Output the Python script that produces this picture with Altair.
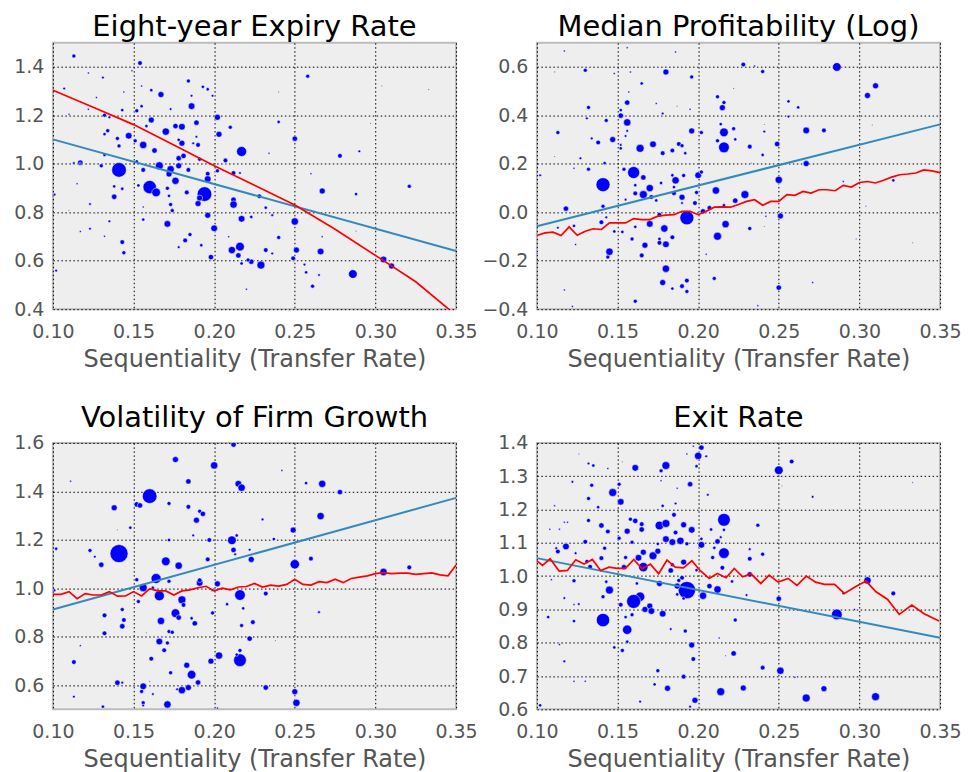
import altair as alt
import pandas as pd

FONT = "DejaVu Sans"

X_TICKS = [0.10, 0.15, 0.20, 0.25, 0.30, 0.35]

# ---------------- Panel 1: Eight-year Expiry Rate ----------------
p1_x = [0.113,0.154,0.107,0.122,0.131,0.149,0.167,0.161,0.184,0.193,0.196,0.199,0.186,0.186,0.127,0.144,0.155,0.155,0.152,0.143,
        0.132,0.135,0.161,0.158,0.173,0.176,0.180,0.189,0.202,0.210,0.203,0.170,0.147,0.134,0.132,0.140,0.141,0.156,0.151,0.163,
        0.180,0.178,0.190,0.187,0.217,0.132,0.117,0.113,0.130,0.141,0.152,0.166,0.173,0.178,0.178,0.181,0.172,0.156,0.184,0.191,
        0.207,0.202,0.196,0.196,0.176,0.160,0.164,0.194,0.212,0.216,0.138,0.143,0.153,0.138,0.171,0.183,0.191,0.190,0.212,0.212,
        0.228,0.172,0.173,0.174,0.123,0.156,0.135,0.196,0.217,0.223,0.232,0.236,0.250,0.267,0.278,0.288,0.321,0.250,0.258,0.240,
        0.290,0.171,0.200,0.185,0.182,0.178,0.192,0.143,0.144,0.198,0.211,0.216,0.215,0.217,0.223,0.221,0.229,0.232,0.236,0.240,
        0.251,0.249,0.266,0.256,0.257,0.265,0.261,0.286,0.305,0.310,0.102,0.101,0.123,0.117,0.132,0.126,0.110,0.220,0.267,0.288,
        0.240,0.333,0.304,0.297,0.260,0.234,0.115,0.110,0.117,0.122,0.209,0.156,0.189]
p1_y = [1.445,1.416,1.311,1.375,1.356,1.384,1.286,1.304,1.342,1.318,1.308,1.281,1.238,1.281,1.274,1.297,1.321,1.238,1.219,1.222,
        1.201,1.192,1.181,1.156,1.226,1.156,1.153,1.170,1.192,1.151,1.122,1.133,1.116,1.137,1.123,1.105,1.074,1.078,1.095,1.055,
        1.085,1.099,1.078,1.085,1.051,1.037,1.005,1.003,0.992,0.975,1.010,0.992,0.978,0.992,1.023,1.033,0.958,0.975,0.975,1.019,
        1.014,0.971,0.959,0.937,0.930,0.904,0.882,0.875,0.962,0.962,0.864,0.897,0.911,0.907,0.899,0.882,0.859,0.836,0.852,0.832,
        0.866,0.868,0.832,0.807,0.834,0.770,0.763,0.788,0.773,0.781,0.819,0.788,0.762,0.888,1.033,0.875,0.907,1.104,1.362,1.173,
        1.052,0.752,0.734,0.708,0.684,0.656,0.664,0.677,0.633,0.615,0.644,0.658,0.622,0.589,0.596,0.603,0.582,0.644,0.630,0.696,
        0.644,0.610,0.638,0.584,0.552,0.541,0.495,0.545,0.605,0.578,0.559,0.873,0.732,0.721,0.701,0.797,0.808,0.482,0.699,0.722,
        1.297,1.307,1.322,1.167,0.959,1.044,0.918,1.205,1.003,1.225,0.699,0.822,1.112]
p1_w = [6,7,4,3,4,3,9,5,6,5,5,4,10,4,3,3,3,5,6,5,
        6,4,9,5,4,8,10,8,9,6,9,11,10,6,5,6,6,11,6,8,
        9,5,7,4,15,5,8,4,6,22,5,12,11,9,8,8,9,7,7,6,
        7,6,7,10,11,20,13,22,7,4,8,5,5,5,6,7,9,9,8,11,
        7,5,6,6,4,5,4,9,10,5,5,4,11,9,7,5,6,8,6,5,
        4,10,10,6,7,4,5,7,6,8,11,13,8,5,8,6,12,7,4,6,
        9,7,10,4,5,4,6,13,10,9,4,4,4,3,3,2,2,3,3,2,
        2,2,2,2,3,3,3,3,3,3,3,3,4]
p1_fit_x = [0.10, 0.35]
p1_fit_y = [1.101, 0.640]
p1_trend_x = [0.10, 0.125, 0.15, 0.175, 0.20, 0.225, 0.25, 0.275, 0.30, 0.325, 0.35]
p1_trend_y = [1.304, 1.234, 1.162, 1.078, 0.992, 0.912, 0.830, 0.730, 0.622, 0.513, 0.375]

# ---------------- Panel 2: Median Profitability (Log) ----------------
p2_x = [0.117,0.156,0.186,0.130,0.111,0.148,0.180,0.196,0.165,0.158,0.228,0.235,0.240,0.286,0.305,0.310,0.212,0.216,0.215,0.157,
        0.156,0.132,0.131,0.152,0.152,0.156,0.143,0.178,0.195,0.113,0.156,0.155,0.147,0.138,0.134,0.152,0.152,0.164,0.172,0.178,
        0.184,0.188,0.190,0.192,0.196,0.202,0.214,0.216,0.212,0.216,0.222,0.223,0.232,0.241,0.240,0.249,0.256,0.262,0.256,0.267,
        0.278,0.267,0.250,0.229,0.223,0.211,0.200,0.202,0.191,0.186,0.185,0.184,0.160,0.154,0.166,0.141,0.132,0.142,0.127,0.123,
        0.102,0.161,0.170,0.166,0.171,0.161,0.174,0.177,0.185,0.190,0.199,0.198,0.190,0.207,0.216,0.193,0.203,0.176,0.170,0.179,
        0.161,0.155,0.141,0.118,0.140,0.143,0.123,0.113,0.148,0.153,0.159,0.167,0.176,0.180,0.184,0.176,0.212,0.217,0.232,0.251,
        0.145,0.144,0.165,0.180,0.178,0.184,0.190,0.193,0.193,0.161,0.210,0.250,0.124,0.100,0.117,0.122,0.237,0.271,0.321,0.290,
        0.333,0.298,0.304,0.205,0.241,0.242,0.111,0.174,0.222,0.241,0.187,0.233,0.308]
p2_y = [0.666,0.679,0.662,0.586,0.579,0.573,0.579,0.559,0.532,0.579,0.610,0.604,0.581,0.600,0.482,0.522,0.477,0.453,0.432,0.497,
        0.453,0.433,0.388,0.422,0.399,0.371,0.379,0.408,0.425,0.329,0.336,0.315,0.300,0.288,0.305,0.278,0.264,0.264,0.281,0.244,
        0.255,0.282,0.275,0.244,0.336,0.329,0.364,0.330,0.295,0.268,0.345,0.301,0.271,0.333,0.237,0.282,0.458,0.433,0.395,0.338,
        0.338,0.201,0.134,0.073,0.048,0.090,0.153,0.166,0.152,0.132,0.104,0.153,0.164,0.178,0.144,0.114,0.178,0.203,0.223,0.182,
        0.153,0.112,0.100,0.073,0.063,0.078,0.049,0.121,0.079,0.062,0.082,0.038,0.038,0.018,0.029,-0.023,0.004,-0.010,-0.048,-0.067,
        -0.060,0.052,0.025,0.015,-0.041,-0.021,-0.056,-0.064,-0.079,-0.081,-0.110,-0.136,-0.126,-0.132,-0.103,-0.110,-0.099,-0.049,-0.067,-0.015,
        -0.163,-0.185,-0.178,-0.233,-0.290,-0.315,-0.305,-0.282,-0.327,-0.367,-0.273,-0.311,-0.133,-0.170,-0.321,-0.389,-0.386,-0.290,0.132,0.127,
        -0.126,-0.110,0.025,-0.173,-0.058,-0.016,0.230,0.449,0.511,0.363,0.438,0.203,0.360]
p2_w = [3,3,3,6,2,3,9,6,5,3,7,3,6,13,9,9,6,6,9,3,
        8,6,4,5,8,11,6,4,3,6,4,4,9,7,4,4,5,12,10,7,
        7,7,6,5,9,6,5,13,6,16,6,5,7,4,5,8,5,5,4,10,
        7,9,11,12,8,11,10,6,6,11,5,5,18,6,8,21,6,5,4,3,
        4,5,11,12,7,7,5,5,7,9,6,7,4,7,5,21,8,7,10,11,
        5,4,6,8,7,4,5,4,5,5,6,9,7,10,7,5,12,11,6,9,
        11,6,7,11,9,5,7,7,6,6,6,8,3,3,3,3,3,3,5,3,
        2,2,2,3,2,3,2,3,2,2,2,2,2]
p2_fit_x = [0.10, 0.35]
p2_fit_y = [-0.058, 0.363]
grid_x = [0.100,0.105,0.110,0.115,0.120,0.125,0.130,0.135,0.140,0.145,0.150,0.155,0.160,0.165,0.170,0.175,0.180,
          0.185,0.190,0.195,0.200,0.205,0.210,0.215,0.220,0.225,0.230,0.235,0.240,0.245,0.250,0.255,0.260,0.265,
          0.270,0.275,0.280,0.285,0.290,0.295,0.300,0.305,0.310,0.315,0.320,0.325,0.330,0.335,0.340,0.345,0.350]
p2_trend_y = [-0.096,-0.085,-0.082,-0.096,-0.060,-0.095,-0.078,-0.068,-0.071,-0.044,-0.044,-0.044,-0.026,-0.030,-0.030,-0.016,-0.012,
              -0.010,0.004,0.004,-0.010,0.004,0.021,0.022,0.021,0.032,0.045,0.052,0.029,0.045,0.045,0.073,0.070,0.086,
              0.079,0.093,0.093,0.089,0.111,0.104,0.123,0.127,0.121,0.132,0.145,0.155,0.158,0.162,0.175,0.171,0.164]

# ---------------- Panel 3: Volatility of Firm Growth ----------------
p3_x = [0.212,0.176,0.200,0.242,0.184,0.111,0.215,0.217,0.257,0.267,0.278,0.160,0.152,0.154,0.172,0.138,0.184,0.191,0.193,0.189,
        0.266,0.230,0.148,0.140,0.249,0.214,0.211,0.197,0.187,0.172,0.237,0.102,0.123,0.126,0.130,0.141,0.212,0.213,0.222,0.223,
        0.196,0.260,0.250,0.170,0.178,0.152,0.164,0.172,0.156,0.162,0.166,0.153,0.191,0.191,0.202,0.199,0.216,0.232,0.180,0.181,
        0.101,0.143,0.132,0.144,0.143,0.176,0.178,0.167,0.186,0.188,0.199,0.208,0.218,0.224,0.217,0.265,0.132,0.158,0.172,0.174,
        0.222,0.166,0.171,0.169,0.117,0.238,0.216,0.216,0.214,0.203,0.198,0.161,0.113,0.183,0.186,0.190,0.173,0.140,0.143,0.156,
        0.180,0.184,0.177,0.155,0.162,0.232,0.250,0.251,0.171,0.156,0.156,0.113,0.131,0.202,0.305,0.321,0.160]
p3_y = [1.593,1.531,1.507,1.486,1.441,1.442,1.431,1.415,1.434,1.431,1.397,1.380,1.346,1.342,1.350,1.332,1.336,1.318,1.307,1.281,
        1.298,1.284,1.250,1.241,1.240,1.218,1.198,1.199,1.218,1.199,1.203,1.163,1.156,1.130,1.097,1.143,1.158,1.140,1.159,1.119,
        1.119,1.122,1.099,1.111,1.093,1.035,1.040,1.029,1.002,1.002,0.969,0.945,1.022,1.033,1.018,0.992,0.972,0.978,0.952,0.931,
        0.991,0.912,0.888,0.869,0.843,0.897,0.879,0.865,0.876,0.855,0.898,0.934,0.917,0.860,0.846,0.901,0.814,0.816,0.821,0.818,
        0.792,0.780,0.774,0.744,0.763,0.784,0.743,0.703,0.726,0.722,0.699,0.709,0.695,0.682,0.643,0.611,0.651,0.610,0.610,0.595,
        0.579,0.590,0.583,0.574,0.563,0.590,0.573,0.527,0.520,0.527,0.516,0.552,0.511,0.505,1.067,1.086,0.615]
p3_w = [8,9,11,3,8,3,10,11,5,11,8,22,8,8,6,9,7,6,8,9,
        11,4,5,2,9,5,13,7,4,5,5,5,6,4,8,27,8,4,4,9,
        7,7,14,13,11,6,15,6,12,5,15,6,10,7,9,4,16,7,12,7,
        4,6,7,7,8,13,8,11,5,8,6,5,5,7,6,4,7,2,6,6,
        8,10,6,7,3,2,6,19,5,11,9,7,7,9,13,8,6,8,4,10,
        11,9,4,6,4,8,9,11,11,6,4,4,5,3,11,7,2]
p3_fit_x = [0.10, 0.35]
p3_fit_y = [0.912, 1.373]
p3_trend_y = [0.975,0.975,0.986,0.957,0.978,0.972,0.972,0.986,0.967,0.968,0.986,0.968,0.998,0.989,0.989,0.972,0.989,
              0.993,1.002,1.008,0.989,1.000,0.993,1.005,1.007,1.020,1.005,1.013,1.009,1.016,1.037,1.016,1.013,1.027,
              1.023,1.037,1.023,1.040,1.046,1.051,1.060,1.064,1.060,1.062,1.062,1.057,1.060,1.063,1.055,1.051,1.096]

# ---------------- Panel 4: Exit Rate ----------------
p4_x = [0.202,0.197,0.200,0.205,0.193,0.199,0.258,0.250,0.161,0.180,0.177,0.132,0.135,0.144,0.126,0.153,0.122,0.151,0.134,0.195,
        0.177,0.187,0.252,0.271,0.333,0.147,0.152,0.132,0.138,0.111,0.206,0.186,0.178,0.175,0.132,0.117,0.119,0.140,0.144,0.216,
        0.158,0.161,0.165,0.165,0.176,0.180,0.185,0.191,0.196,0.186,0.156,0.237,0.108,0.114,0.208,0.216,0.214,0.212,0.202,0.202,
        0.189,0.184,0.180,0.193,0.175,0.159,0.151,0.130,0.118,0.113,0.112,0.142,0.124,0.140,0.131,0.155,0.163,0.166,0.172,0.175,
        0.216,0.209,0.210,0.232,0.240,0.232,0.133,0.154,0.166,0.184,0.191,0.183,0.199,0.215,0.232,0.221,0.123,0.109,0.143,0.176,
        0.162,0.190,0.188,0.193,0.187,0.207,0.212,0.203,0.145,0.141,0.164,0.160,0.170,0.171,0.167,0.152,0.178,0.159,0.155,0.191,
        0.187,0.230,0.250,0.286,0.305,0.321,0.290,0.297,0.117,0.123,0.126,0.107,0.123,0.141,0.156,0.183,0.192,0.223,0.156,0.148,
        0.153,0.196,0.213,0.114,0.117,0.222,0.197,0.175,0.173,0.181,0.191,0.214,0.228,0.240,0.251,0.260,0.267,0.278,0.310,0.198,
        0.195,0.164,0.102,0.123,0.130,0.283,0.241,0.217]
p4_y = [1.386,1.390,1.361,1.360,1.367,1.330,1.344,1.318,1.325,1.332,1.316,1.338,1.332,1.323,1.367,1.343,1.283,1.276,1.273,1.276,
        1.286,1.264,1.271,1.238,1.281,1.251,1.223,1.233,1.207,1.211,1.244,1.218,1.211,1.199,1.167,1.162,1.162,1.152,1.134,1.169,
        1.171,1.166,1.156,1.140,1.152,1.158,1.184,1.154,1.139,1.131,1.135,1.153,1.141,1.141,1.140,1.139,1.117,1.104,1.112,1.094,
        1.106,1.102,1.111,1.097,1.097,1.102,1.114,1.103,1.089,1.074,1.084,1.084,1.069,1.054,1.044,1.056,1.055,1.072,1.061,1.075,
        1.069,1.056,1.085,1.081,1.066,1.052,1.028,1.027,1.027,1.034,1.042,1.017,1.018,1.025,1.005,0.984,0.986,0.989,0.983,0.978,
        0.978,0.995,0.987,0.958,0.970,0.970,0.960,0.941,0.958,0.938,0.938,0.924,0.910,0.895,0.900,0.914,0.887,0.884,0.877,0.933,
        0.945,0.943,0.932,0.885,0.987,0.948,0.948,0.900,0.934,0.915,0.916,0.877,0.865,0.868,0.839,0.841,0.835,0.868,0.803,0.786,
        0.777,0.793,0.814,0.795,0.744,0.768,0.751,0.716,0.675,0.663,0.698,0.653,0.664,0.725,0.716,0.696,0.634,0.662,0.638,0.627,
        0.608,0.623,0.612,0.684,0.684,1.199,0.798,0.761]
p4_w = [8,3,11,4,3,5,7,13,10,12,6,4,5,3,2,2,4,6,6,8,
        3,3,2,4,2,12,10,6,5,3,4,4,5,3,6,3,3,8,7,19,
        6,8,7,8,13,12,7,9,10,7,9,6,3,3,5,5,4,8,5,10,
        11,10,10,6,5,6,6,7,10,7,4,6,4,7,6,6,10,9,12,9,
        16,6,5,4,6,7,7,8,14,6,9,8,5,7,8,5,6,3,5,9,
        5,7,6,26,9,8,11,11,12,6,14,21,9,10,9,7,10,6,5,5,
        5,4,8,16,11,7,4,3,4,3,4,5,5,20,14,4,6,6,5,5,
        6,9,3,3,4,8,7,6,5,9,7,12,9,7,11,3,12,9,12,9,
        4,4,5,3,3,2,2,2]
p4_fit_x = [0.10, 0.35]
p4_fit_y = [1.054, 0.815]
p4_trend_x = [0.1000,0.1035,0.1082,0.1138,0.1189,0.1241,0.1292,0.1344,0.1395,0.1447,0.1498,0.1549,0.1601,0.1652,0.1704,
              0.1755,0.1807,0.1858,0.1909,0.1961,0.2012,0.2068,0.2119,0.2173,0.2224,0.2276,0.2327,0.2389,0.2440,0.2496,
              0.2558,0.2613,0.2671,0.2728,0.2784,0.2846,0.2907,0.2975,0.3041,0.3103,0.3175,0.3247,0.3325,0.3401,0.3494]
p4_trend_y = [1.046,1.032,1.052,1.015,1.017,1.049,1.036,1.050,1.017,1.027,1.023,1.023,1.050,1.022,1.036,
              1.007,1.048,1.027,1.025,1.046,1.017,0.993,1.008,0.995,1.023,0.998,1.007,0.978,1.003,0.982,
              0.993,0.972,1.000,0.982,0.975,0.975,0.948,0.968,0.985,0.953,0.930,0.885,0.913,0.887,0.865]


def panel(title, px, py, pw, fx, fy, tx, ty, ydom, yvals):
    pts = pd.DataFrame(list(zip(px, py, pw)), columns=["x", "y", "w"])
    fit = pd.DataFrame(list(zip(fx, fy)), columns=["x", "y"])
    trend = pd.DataFrame(list(zip(tx, ty)), columns=["x", "y"])
    xsc = alt.Scale(domain=[0.10, 0.35], nice=False, zero=False, padding=0)
    ysc = alt.Scale(domain=ydom, nice=False, zero=False, padding=0)
    xax = alt.Axis(values=X_TICKS, format=".2f", title="Sequentiality (Transfer Rate)")
    yax = alt.Axis(values=yvals, format=".1f", title=None)
    X = alt.X("x:Q", scale=xsc, axis=xax)
    Y = alt.Y("y:Q", scale=ysc, axis=yax)
    dots = alt.Chart(pts).mark_circle(
        color="#0000FF", opacity=1, stroke="white", strokeWidth=0.5, clip=True
    ).encode(
        x=X, y=Y,
        size=alt.Size("w:Q", scale=alt.Scale(type="pow", exponent=2, domain=[0, 30], range=[0, 400]), legend=None),
    )
    fline = alt.Chart(fit).mark_line(color="#348ABD", strokeWidth=2, clip=True).encode(x=X, y=Y)
    tline = alt.Chart(trend).mark_line(color="#FF0000", strokeWidth=1.7, clip=True).encode(x=X, y=Y)
    return alt.layer(dots, fline, tline).properties(
        width=404, height=267,
        title=alt.TitleParams(title, fontSize=29, font=FONT, fontWeight="normal", color="black", offset=1),
    )


c1 = panel("Eight-year Expiry Rate", p1_x, p1_y, p1_w, p1_fit_x, p1_fit_y, p1_trend_x, p1_trend_y,
           [0.4, 1.5], [0.4, 0.6, 0.8, 1.0, 1.2, 1.4])
c2 = panel("Median Profitability (Log)", p2_x, p2_y, p2_w, p2_fit_x, p2_fit_y, grid_x, p2_trend_y,
           [-0.4, 0.7], [-0.4, -0.2, 0.0, 0.2, 0.4, 0.6])
c3 = panel("Volatility of Firm Growth", p3_x, p3_y, p3_w, p3_fit_x, p3_fit_y, grid_x, p3_trend_y,
           [0.5, 1.6], [0.6, 0.8, 1.0, 1.2, 1.4, 1.6])
c4 = panel("Exit Rate", p4_x, p4_y, p4_w, p4_fit_x, p4_fit_y, p4_trend_x, p4_trend_y,
           [0.6, 1.4], [0.6, 0.7, 0.8, 0.9, 1.0, 1.1, 1.2, 1.3, 1.4])

chart = alt.concat(
    c1, c2, c3, c4, columns=2, spacing={"row": 134, "column": 81}, bounds="flush"
).properties(
    padding={"left": 4, "top": 3, "right": 0, "bottom": 0}
).configure_view(
    fill="#EEEEEE", stroke="#BCBCBC", strokeWidth=2
).configure_axis(
    labelFont=FONT, labelFontSize=19, labelColor="#555555", labelFlush=False,
    titleFont=FONT, titleFontSize=24, titleColor="#555555", titleFontWeight="normal",
    ticks=False, tickSize=0, domain=False,
    grid=True, gridColor="#000000", gridDash=[1.5, 2.5], gridWidth=1, gridOpacity=1,
    labelPadding=9, titlePadding=6,
).configure_axisX(labelPadding=13)

chart.save("out.html", embed_options={"renderer": "svg", "actions": False})
